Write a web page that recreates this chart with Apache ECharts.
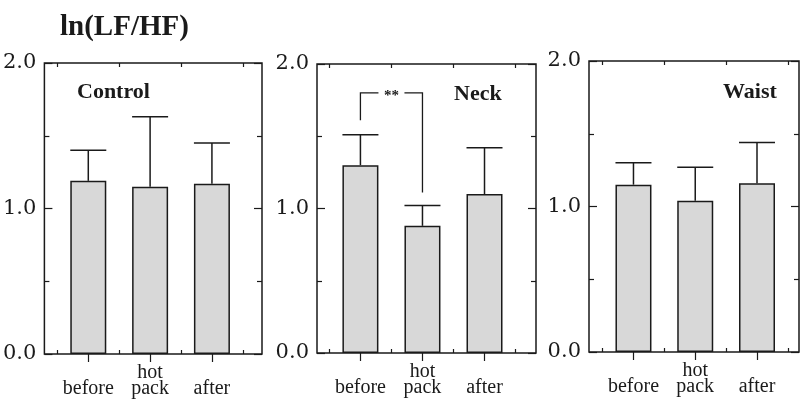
<!DOCTYPE html>
<html>
<head>
<meta charset="utf-8">
<script src="https://cdn.jsdelivr.net/npm/echarts@6/dist/echarts.min.js"></script>
<style>
html,body{margin:0;padding:0;background:#fff;}
#c{width:801px;height:406px;}
</style>
</head>
<body>
<div id="c"></div>
<script>
// ---- data ----
const categories = ['before', 'hot\npack', 'after'];
const categoryX = [1, 2, 3];
const panelNames = ['Control', 'Neck', 'Waist'];
const controlMean = [1.19, 1.15, 1.17];
const controlUpper = [1.40, 1.63, 1.45];
const neckMean = [1.30, 0.88, 1.10];
const neckUpper = [1.51, 1.02, 1.42];
const waistMean = [1.15, 1.04, 1.16];
const waistUpper = [1.30, 1.27, 1.44];
const yTickValues = [0, 1, 2];
const xMinorTicks = [0.5, 1.5, 2.5, 3.5];
// significance bracket in Neck panel: [xFrom, xTo], [yTop, yLeftEnd, yRightEnd]
const bracketX = [1, 2];
const bracketY = [1.80, 1.61, 1.11];
const bracketLabel = '**';
const titleText = 'ln(LF/HF)';

// ---- layout ----
const grids = [
  {left: 44, top: 63, width: 218, height: 291, xmin: 0.29, xmax: 3.81},
  {left: 317, top: 64, width: 219, height: 289, xmin: 0.30, xmax: 3.83},
  {left: 589, top: 61, width: 210, height: 291, xmin: 0.28, xmax: 3.68}
];
const labelPos = [
  {left: 72, top: 76},
  {left: 449, top: 78},
  {left: 718, top: 76}
];
const means = [controlMean, neckMean, waistMean];
const uppers = [controlUpper, neckUpper, waistUpper];
const INK = '#1a1a1a';
const SERIF = 'Liberation Serif';
const BARW = 36;

const option = {
  animation: false,
  backgroundColor: '#fff',
  title: [{
    text: titleText, left: 55, top: 8,
    textStyle: {fontFamily: SERIF, fontWeight: 'bold', fontSize: 29, color: INK}
  }].concat(panelNames.map((n, i) => ({
    text: n, left: labelPos[i].left, top: labelPos[i].top,
    textStyle: {fontFamily: SERIF, fontWeight: 'bold', fontSize: 22, color: INK}
  }))),
  grid: grids.map(g => ({left: g.left, top: g.top, width: g.width, height: g.height,
    show: true, borderColor: INK, borderWidth: 1.5, backgroundColor: 'transparent'})),
  xAxis: [],
  yAxis: [],
  series: []
};

grids.forEach((g, i) => {
  const base = i * 3;
  // bottom axis: minor ticks + category labels
  option.xAxis.push({
    type: 'value', gridIndex: i, position: 'bottom', min: g.xmin, max: g.xmax,
    axisLine: {show: false}, splitLine: {show: false},
    axisTick: {show: true, inside: true, length: 4, customValues: xMinorTicks,
      lineStyle: {color: INK, width: 1.2}},
    axisLabel: {show: true, customValues: categoryX, margin: 43, verticalAlign: 'bottom',
      formatter: v => categories[Math.round(v) - 1] || '',
      fontFamily: SERIF, fontSize: 20, lineHeight: 16, color: INK}
  });
  // top axis: long ticks at bars
  option.xAxis.push({
    type: 'value', gridIndex: i, position: 'top', offset: 0, min: g.xmin, max: g.xmax,
    axisLine: {show: false}, splitLine: {show: false}, axisLabel: {show: false},
    axisTick: {show: true, inside: true, length: 8, customValues: categoryX,
      lineStyle: {color: INK, width: 1.2}}
  });
  // top axis: short ticks between bars
  option.xAxis.push({
    type: 'value', gridIndex: i, position: 'top', offset: 0, min: g.xmin, max: g.xmax,
    axisLine: {show: false}, splitLine: {show: false}, axisLabel: {show: false},
    axisTick: {show: true, inside: true, length: 4, customValues: xMinorTicks,
      lineStyle: {color: INK, width: 1.2}}
  });
  option.yAxis.push({
    type: 'value', gridIndex: i, position: 'left', min: 0, max: 2, interval: 1,
    axisLine: {show: false}, splitLine: {show: false},
    axisTick: {show: true, inside: true, length: 8, lineStyle: {color: INK, width: 1.2}},
    minorTick: {show: true, splitNumber: 2, length: 5, lineStyle: {color: INK, width: 1.2}},
    axisLabel: {show: true, customValues: yTickValues, margin: 8, formatter: v => v.toFixed(1),
      fontFamily: 'DejaVu Serif', fontSize: 21, color: INK}
  });
  option.yAxis.push({
    type: 'value', gridIndex: i, position: 'right', min: 0, max: 2, interval: 1,
    axisLine: {show: false}, splitLine: {show: false}, axisLabel: {show: false},
    axisTick: {show: true, inside: true, length: 8, lineStyle: {color: INK, width: 1.2}},
    minorTick: {show: true, splitNumber: 2, length: 5, lineStyle: {color: INK, width: 1.2}}
  });

  option.series.push({
    type: 'bar', xAxisIndex: base, yAxisIndex: i * 2, barWidth: BARW,
    data: categoryX.map((x, k) => [x, means[i][k]]),
    itemStyle: {color: '#d8d8d8', borderColor: INK, borderWidth: 1.5},
    z: 3
  });
  option.series.push({
    type: 'custom', xAxisIndex: base, yAxisIndex: i * 2,
    data: categoryX.map((x, k) => [x, means[i][k], uppers[i][k]]),
    renderItem: (params, api) => {
      const p0 = api.coord([api.value(0), api.value(1)]);
      const p1 = api.coord([api.value(0), api.value(2)]);
      const hw = BARW / 2;
      const st = {stroke: INK, lineWidth: 1.5, fill: null};
      return {type: 'group', children: [
        {type: 'line', shape: {x1: p0[0], y1: p0[1], x2: p1[0], y2: p1[1]}, style: st},
        {type: 'line', shape: {x1: p1[0] - hw, y1: p1[1], x2: p1[0] + hw, y2: p1[1]}, style: st}
      ]};
    },
    z: 4
  });
});

// bracket in Neck panel
option.series.push({
  type: 'custom', xAxisIndex: 3, yAxisIndex: 2,
  data: [[bracketX[0], bracketX[1], bracketY[0], bracketY[1], bracketY[2]]],
  renderItem: (params, api) => {
    const a = api.coord([api.value(0), api.value(2)]);
    const b = api.coord([api.value(1), api.value(2)]);
    const la = api.coord([api.value(0), api.value(3)]);
    const rb = api.coord([api.value(1), api.value(4)]);
    const mid = (a[0] + b[0]) / 2;
    const gap = 13;
    const st = {stroke: INK, lineWidth: 1.3, fill: null};
    return {type: 'group', children: [
      {type: 'polyline', shape: {points: [[la[0], la[1]], [a[0], a[1]], [mid - gap, a[1]]]}, style: st},
      {type: 'polyline', shape: {points: [[mid + gap, b[1]], [b[0], b[1]], [rb[0], rb[1]]]}, style: st},
      {type: 'text', x: mid, y: a[1] + 3, style: {text: bracketLabel, textAlign: 'center',
        textVerticalAlign: 'middle', font: 'bold 15px "Liberation Serif"', fill: INK}}
    ]};
  },
  z: 5
});

const chart = echarts.init(document.getElementById('c'), null, {renderer: 'canvas'});
chart.setOption(option);
</script>
</body>
</html>
